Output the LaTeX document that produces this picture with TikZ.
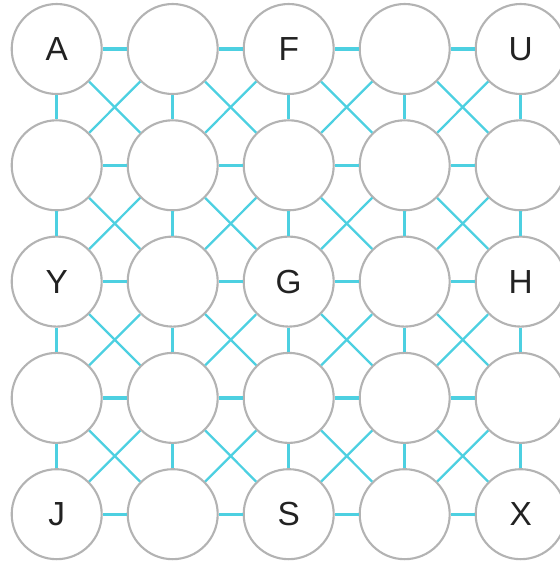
\documentclass[tikz,border=0pt]{standalone}
\usepackage{fontspec}
\setmainfont{Liberation Sans}
\definecolor{linkcyan}{HTML}{4DD0E1}
\definecolor{ringgray}{HTML}{B3B3B3}
\definecolor{letterink}{HTML}{222222}
\tikzset{
  cell/.style={circle, draw=ringgray, line width=0.6pt, fill=white,
    minimum size=0.9cm, inner sep=0pt},
  letter/.style={text=letterink, font=\fontsize{9.5}{11}\selectfont},
  straight/.style={draw=linkcyan, line width=0.95pt},
  cross/.style={draw=linkcyan, line width=0.65pt}
}
\begin{document}
\begin{tikzpicture}
  \useasboundingbox (0,0) rectangle (5.60,5.62);
  % the 5x5 grid of circles
  \foreach \c in {0,...,4}
    \foreach \r in {0,...,4}
      \node [cell] (n\c\r) at ({0.567+1.16*\c},{5.13-1.163*\r}) {};
  % straight links
  \foreach \c in {0,...,3}
    \foreach \r in {0,...,4} {
      \pgfmathtruncatemacro\cnext{\c+1}
      \path [straight] (n\c\r) -- (n\cnext\r);
      \path [straight] (n\r\c) -- (n\r\cnext);
    }
  % crossing links
  \foreach \c in {0,...,3}
    \foreach \r in {0,...,3} {
      \pgfmathtruncatemacro\cnext{\c+1}
      \pgfmathtruncatemacro\rnext{\r+1}
      \path [cross] (n\c\r) -- (n\cnext\rnext);
      \path [cross] (n\cnext\r) -- (n\c\rnext);
    }
  % letters
  \foreach \p/\t in {00/A,20/F,40/U,02/Y,22/G,42/H,04/J,24/S,44/X}
    \node [letter] (t\p) at (n\p) {\t};
\end{tikzpicture}
\end{document}
